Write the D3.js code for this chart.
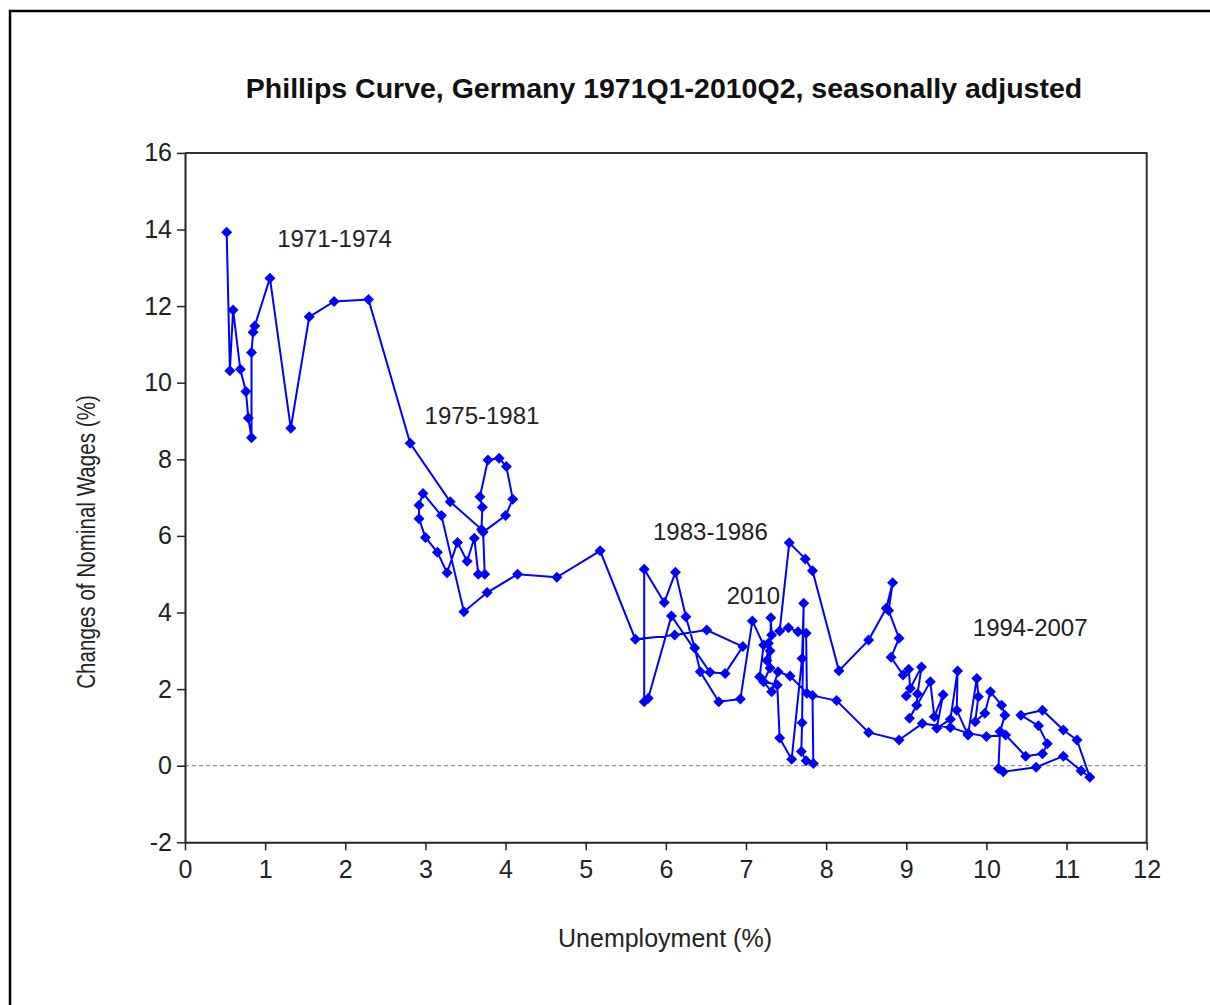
<!DOCTYPE html>
<html>
<head>
<meta charset="utf-8">
<script src="https://cdn.jsdelivr.net/npm/d3@7/dist/d3.min.js"></script>
<style>
body{margin:0;background:#fff;}
text{font-family:"Liberation Sans",Arial,sans-serif;}
</style>
</head>
<body>
<svg width="1210" height="1005"></svg>
<script>
// [unemployment %, wage change %] per quarter
const p1971=[[0.52,13.93],[0.56,10.31],[0.60,11.90],[0.69,10.35],[0.76,9.77],[0.79,9.08],[0.83,8.56],[0.83,10.79],
  [0.85,11.32],[0.87,11.48],[1.06,12.73],[1.32,8.81],[1.55,11.72],[1.86,12.12],[2.29,12.17],[2.81,8.42]];
const p1975=[[3.31,6.89],[3.70,6.17],[3.71,6.75],[3.68,7.02],[3.78,7.98],[3.92,8.03],[4.01,7.81],[4.09,6.96],
  [4.00,6.53],[3.72,6.10],[3.74,5.00],[3.66,5.00],[3.61,5.94],[3.52,5.34],[3.40,5.83],[3.27,5.04],[3.15,5.57],
  [3.00,5.96],[2.92,6.45],[2.92,6.80],[2.97,7.11],[3.20,6.53],[3.48,4.02],[3.77,4.52],[4.15,5.00],[4.64,4.92]];
const p1982=[[5.18,5.61],[5.62,3.30],[6.11,3.41],[6.51,3.54],[6.96,3.11],[6.74,2.41],[6.55,2.44],[6.07,3.91],
  [5.78,1.76],[5.73,1.67],[5.73,5.13],[5.98,4.26],[6.12,5.05],[6.25,3.89],[6.36,3.07],[6.43,2.45],[6.66,1.67],
  [6.93,1.74],[7.08,3.78],[7.22,3.15],[7.17,2.32],[7.32,1.93],[7.40,2.45],[7.55,2.34],[7.76,1.89],[7.75,3.46],
  [7.65,3.50],[7.53,3.60],[7.42,3.52],[7.54,5.82],[7.74,5.40],[7.83,5.09],[8.16,2.48],[8.53,3.28],[8.75,4.11],
  [8.83,4.78]];
const p1994=[[8.78,4.05],[8.91,3.33],[8.81,2.83],[8.96,2.37],[9.03,2.52],[9.05,2.02],[9.00,1.82],[9.19,2.58],
  [9.14,1.87],[9.13,1.58],[9.04,1.24],[9.30,2.19],[9.35,1.28],[9.46,1.85],[9.38,0.98],[9.55,1.21],[9.64,2.47],
  [9.63,1.45],[9.77,0.80],[9.88,2.28],[9.90,1.80],[9.86,1.15],[9.98,1.37],[10.05,1.93],[10.19,1.58],[10.23,1.32],
  [10.17,0.89],[10.15,-0.07],[10.21,-0.16],[10.62,-0.04],[10.96,0.25],[11.18,-0.13],[11.29,-0.30],[11.13,0.67],
  [10.96,0.93],[10.70,1.45],[10.43,1.32],[10.65,1.04],[10.76,0.57],[10.70,0.31],[10.49,0.25],[10.24,0.80],
  [10.00,0.76],[9.77,0.85],[9.55,1.00],[9.20,1.10],[8.91,0.67],[8.53,0.87],[8.13,1.70],[7.83,1.83]];
const p2008=[[7.84,0.06],[7.75,0.13],[7.69,0.37],[7.70,1.12],[7.72,4.24],[7.70,2.80],[7.57,0.17],[7.42,0.72],
  [7.39,2.11],[7.22,2.19],[7.30,2.55],[7.31,3.86],[7.32,3.41],[7.28,3.20],[7.26,2.75],[7.30,3.00]];

const xTicks=d3.range(0,13);
const yTicks=d3.range(-2,17,2);
const periodLabels=[["1971-1974",1.15,13.54],["1975-1981",2.99,8.92],["1983-1986",5.84,5.89],
  ["2010",6.76,4.22],["1994-2007",9.83,3.39]];

const series=[].concat(p1971,p1975,p1982,p1994,p2008);

const svg=d3.select("svg");
const x=d3.scaleLinear().domain([0,12]).range([185,1146.7]);
const y=d3.scaleLinear().domain([-2,16]).range([842.3,152.9]);

// outer frame (right and bottom edges fall outside the picture)
svg.append("rect").attr("x",10).attr("y",11).attr("width",1230).attr("height",1020)
   .attr("fill","none").attr("stroke","black").attr("stroke-width",2.5);

svg.append("text").attr("x",664).attr("y",98).attr("text-anchor","middle")
   .attr("font-size",28.5).attr("font-weight","bold").attr("fill","#111")
   .text("Phillips Curve, Germany 1971Q1-2010Q2, seasonally adjusted");

// box top / right
svg.append("path")
   .attr("d",`M${x(0)},${y(16)}H${x(12)}V${y(-2)}`)
   .attr("fill","none").attr("stroke","#333").attr("stroke-width",2);

// zero line
svg.append("line").attr("x1",x(0)).attr("x2",x(12)).attr("y1",y(0)).attr("y2",y(0))
   .attr("stroke","#777").attr("stroke-width",1).attr("stroke-dasharray","4,3");

const gx=svg.append("g").attr("transform",`translate(0,${y(-2)})`)
   .call(d3.axisBottom(x).tickValues(xTicks).tickFormat(d=>String(d)).tickSize(8).tickSizeOuter(0).tickPadding(10));
const gy=svg.append("g").attr("transform",`translate(${x(0)},0)`)
   .call(d3.axisLeft(y).tickValues(yTicks).tickFormat(d=>String(d)).tickSize(8).tickSizeOuter(0).tickPadding(5));
[gx,gy].forEach(g=>{
  g.select(".domain").attr("stroke","#222").attr("stroke-width",2);
  g.selectAll(".tick line").attr("stroke","#222").attr("stroke-width",1.5);
  g.selectAll(".tick text").attr("font-size",25).attr("fill","#222")
   .attr("font-family","'Liberation Sans',Arial,sans-serif");
});

svg.append("text").attr("x",665).attr("y",947).attr("text-anchor","middle")
   .attr("font-size",25).attr("fill","#222").text("Unemployment (%)");
// the vertical title is narrower in the picture
svg.append("text").attr("transform","translate(95,542) rotate(-90) scale(0.825,1)").attr("text-anchor","middle")
   .attr("font-size",25).attr("fill","#222").text("Changes of Nominal Wages (%)");

// the curve
const line=d3.line().x(d=>x(d[0])).y(d=>y(d[1]));
svg.append("path").datum(series).attr("d",line)
   .attr("fill","none").attr("stroke","#0000ff").attr("stroke-width",2);

const diamond="M0,-5.5L5.5,0L0,5.5L-5.5,0Z";
svg.append("g").selectAll("path").data(series).enter().append("path")
   .attr("d",diamond).attr("transform",d=>`translate(${x(d[0])},${y(d[1])})`)
   .attr("fill","#0000ff");

svg.append("g").selectAll("text").data(periodLabels).enter().append("text")
   .attr("x",d=>x(d[1])).attr("y",d=>y(d[2]))
   .attr("font-size",24).attr("fill","#222").text(d=>d[0]);
</script>
</body>
</html>
